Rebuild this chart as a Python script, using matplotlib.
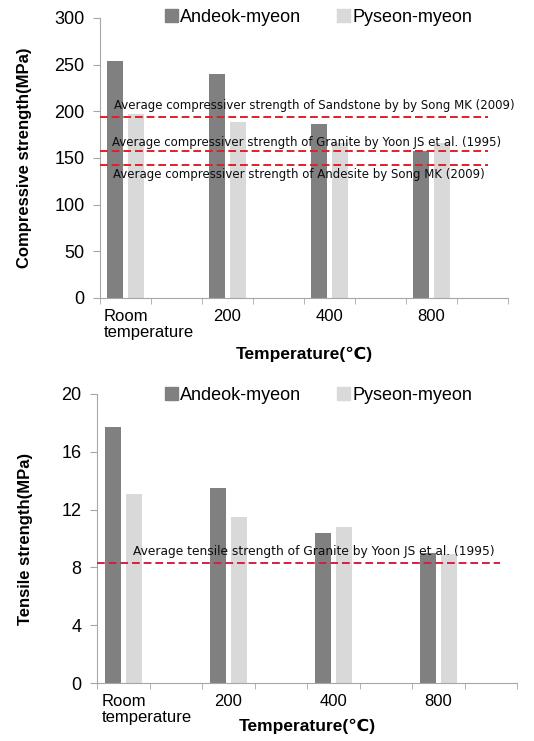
import matplotlib
matplotlib.use('Agg')
from matplotlib import pyplot as plt
from matplotlib.patches import Patch
import matplotlib.transforms as mtransforms
import numpy as np

plt.rcParams['font.family'] = ['Liberation Sans', 'DejaVu Sans']

# data
categories = ['Room\ntemperature', '200', '400', '800']
series_names = ['Andeok-myeon', 'Pyseon-myeon']
comp_andeok = [254, 240, 186, 158]
comp_pyseon = [197, 189, 166, 166]
tens_andeok = [17.7, 13.5, 10.4, 9.0]
tens_pyseon = [13.1, 11.5, 10.8, 8.9]

comp_refs = [194, 157.5, 143]
comp_ref_labels = ['Average compressiver strength of Sandstone by by Song MK (2009)',
                   'Average compressiver strength of Granite by Yoon JS et al. (1995)',
                   'Average compressiver strength of Andesite by Song MK (2009)']
tens_refs = [8.33]
tens_ref_labels = ['Average tensile strength of Granite by Yoon JS et al. (1995)']

dark = '#808080'
light = '#d9d9d9'
red = '#e0202a'
spine_col = '#a6a6a6'

fig = plt.figure(figsize=(5.34, 7.41), dpi=100)
ax1 = fig.add_axes([100/534, 1-298/741, 408/534, 280/741])
ax2 = fig.add_axes([97/534, 1-683/741, 420/534, 289/741])

# categories take every second slot of 8
pos = np.arange(len(categories)) * 2 + 0.5
w = 0.31


def style(ax, yticks, ylabel, ylab_x, xlab_y):
    ax.set_xlim(0, 8)
    ax.set_ylim(yticks[0], yticks[-1])
    ax.set_yticks(yticks)
    for s in ['top', 'right']:
        ax.spines[s].set_visible(False)
    for s in ['left', 'bottom']:
        ax.spines[s].set_color(spine_col)
    ax.tick_params(axis='y', length=5, color=spine_col, labelsize=13, pad=6)
    ax.set_xticks(pos)
    ax.set_xticklabels(categories, fontsize=12)
    ax.tick_params(axis='x', which='major', length=0, pad=8)
    ax.set_xticks(np.arange(0, 9), minor=True)
    ax.tick_params(axis='x', which='minor', length=4, color=spine_col)
    lab = ax.get_xticklabels()[0]
    lab.set_horizontalalignment('left')
    lab.set_linespacing(1.1)
    off = mtransforms.ScaledTranslation(-22/100, 0, fig.dpi_scale_trans)
    lab.set_transform(lab.get_transform() + off)
    ax.set_ylabel(ylabel, fontsize=12, fontweight='bold')
    ax.yaxis.set_label_coords(ylab_x, 0.5)
    ax.set_xlabel('Temperature(\u2103)', fontsize=12.5, fontweight='bold')
    ax.xaxis.set_label_coords(0.5, xlab_y)


# top chart
ax1.bar(pos - 0.2, comp_andeok, w, color=dark, zorder=2)
ax1.bar(pos + 0.2, comp_pyseon, w, color=light, zorder=2)
style(ax1, [0, 50, 100, 150, 200, 250, 300], 'Compressive strength(MPa)', -0.167, -0.175)
for v in comp_refs:
    ax1.axhline(v, xmin=0, xmax=0.951, color=red, ls='--', lw=1.4, dashes=(4, 2), zorder=3)
txt_pos = [(0.275, 206), (0.23, 167), (0.255, 132)]
for (tx, ty), t in zip(txt_pos, comp_ref_labels):
    ax1.text(tx, ty, t, fontsize=8.5, family='DejaVu Sans', va='center', ha='left',
             color='#0d0d0d', zorder=4)

# bottom chart
ax2.bar(pos - 0.2, tens_andeok, w, color=dark, zorder=2)
ax2.bar(pos + 0.2, tens_pyseon, w, color=light, zorder=2)
style(ax2, [0, 4, 8, 12, 16, 20], 'Tensile strength(MPa)', -0.152, -0.125)
for v in tens_refs:
    ax2.axhline(v, xmin=0, xmax=0.96, color='#d42040', ls='--', lw=1.4, dashes=(4, 2), zorder=3)
for t in tens_ref_labels:
    ax2.text(0.69, 9.1, t, fontsize=8.8, family='DejaVu Sans', va='center', ha='left',
             color='#0d0d0d', zorder=4)

handles = [Patch(color=dark), Patch(color=light)]
for y in [1-17/741, 1-395/741]:
    fig.legend(handles, series_names, loc='center', bbox_to_anchor=(0.597, y), ncol=2,
               frameon=False, fontsize=13, handlelength=0.7, handleheight=0.7,
               handletextpad=0.15, columnspacing=2.0, borderpad=0)

plt.savefig('out.png', dpi=100)
